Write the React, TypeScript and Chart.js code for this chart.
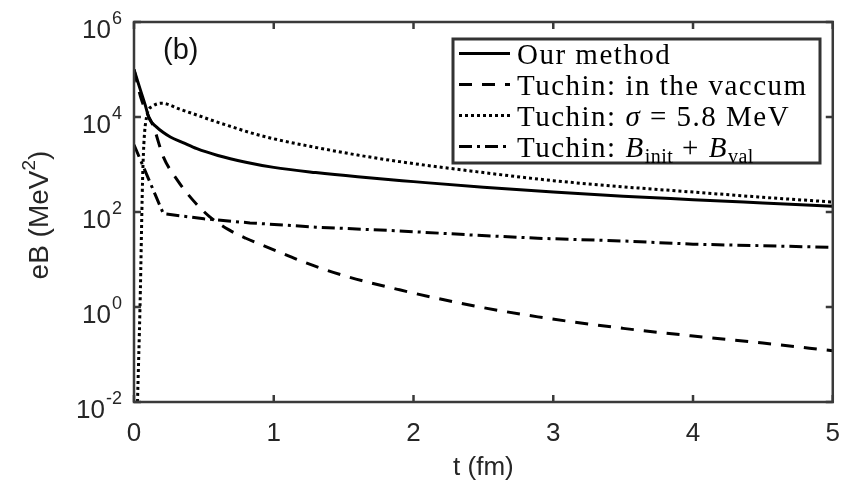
import React, { useEffect, useRef } from 'react';
import { Chart, registerables } from 'chart.js';
Chart.register(...registerables);

// ---- data (t in fm, eB in MeV^2) ----
const ourT = [0, 0.04, 0.08, 0.11, 0.16, 0.21, 0.26, 0.35, 0.45, 0.6, 0.8, 1.0, 1.3, 1.6, 2.0, 2.5, 3.0, 3.5, 4.0, 4.5, 5.0];
const ourB = [100000, 42000, 18000, 9100, 6200, 4700, 3800, 2900, 2150, 1550, 1120, 870, 676, 550, 436, 331, 263, 214, 182, 155, 132];

const vacT = [0, 0.05, 0.1, 0.14, 0.21, 0.31, 0.42, 0.54, 0.68, 0.8, 1.0, 1.23, 1.5, 1.9, 2.4, 2.89, 3.5, 4.0, 4.5, 5.0];
const vacB = [100000, 25000, 11000, 6200, 1450, 470, 180, 80, 42, 28, 16, 8.5, 4.6, 2.3, 1.1, 0.62, 0.355, 0.245, 0.174, 0.12];

const sigT = [0.025, 0.043, 0.064, 0.09, 0.13, 0.2, 0.33, 0.45, 0.59, 0.68, 0.83, 1.0, 1.3, 1.6, 1.9, 2.5, 3.0, 3.5, 4.0, 4.5, 5.0];
const sigB = [0.01, 1, 900, 10000, 16600, 19500, 14500, 11000, 7900, 6500, 4700, 3470, 2290, 1580, 1150, 676, 457, 339, 263, 204, 162];

const valT = [0, 0.21, 0.5, 0.83, 1.3, 1.9, 2.4, 2.89, 3.5, 4.0, 4.5, 5.0];
const valB = [2600, 92, 72, 59, 48, 40, 33, 28, 24.5, 21, 19.5, 18];

const seriesNames = ['Our method', 'Tuchin: in the vaccum', 'Tuchin: σ = 5.8 MeV', 'Tuchin: B_init + B_val'];

const xTicks = [0, 1, 2, 3, 4, 5];
const yExps = [6, 4, 2, 0, -2];

const xTitle = 't (fm)';
const yTitleMain = 'eB (MeV';
const yTitleSup = '2';
const yTitleEnd = ')';
const panelLabel = '(b)';

type Run = { t: string; i?: boolean; sub?: boolean };
const legendRuns: Run[][] = [
  [{ t: 'Our method' }],
  [{ t: 'Tuchin: in the vaccum' }],
  [{ t: 'Tuchin: ' }, { t: 'σ', i: true }, { t: ' = 5.8 MeV' }],
  [{ t: 'Tuchin: ' }, { t: 'B', i: true }, { t: 'init', sub: true }, { t: ' + ' }, { t: 'B', i: true }, { t: 'val', sub: true }],
];

const SANS = '"Liberation Sans", Arial, Helvetica, sans-serif';
const SERIF = '"Liberation Serif", "Times New Roman", serif';
const AXIS_COLOR = '#3a3a3a';
const TEXT_COLOR = '#262626';

const dashes: number[][] = [[], [13, 10], [3, 3], [13, 5, 3, 5]];

const framePlugin = {
  id: 'frame',
  afterDatasetsDraw(chart: any) {
    const { ctx, chartArea: a, scales } = chart;
    const xs = scales.x;
    const ys = scales.y;
    ctx.save();
    // box + inward ticks
    ctx.strokeStyle = AXIS_COLOR;
    ctx.lineWidth = 2.5;
    ctx.setLineDash([]);
    ctx.beginPath();
    const tl = 7;
    for (const t of xTicks) {
      const px = xs.getPixelForValue(t);
      ctx.moveTo(px, a.bottom);
      ctx.lineTo(px, a.bottom - tl);
      ctx.moveTo(px, a.top);
      ctx.lineTo(px, a.top + tl);
    }
    for (const e of yExps) {
      const py = ys.getPixelForValue(Math.pow(10, e));
      ctx.moveTo(a.left, py);
      ctx.lineTo(a.left + tl, py);
      ctx.moveTo(a.right, py);
      ctx.lineTo(a.right - tl, py);
    }
    ctx.stroke();
    ctx.strokeRect(a.left, a.top, a.right - a.left, a.bottom - a.top);

    // y tick labels 10^e
    ctx.fillStyle = TEXT_COLOR;
    ctx.textBaseline = 'alphabetic';
    ctx.textAlign = 'left';
    const rightEdge = a.left - 12;
    for (const e of yExps) {
      const py = ys.getPixelForValue(Math.pow(10, e));
      const expText = String(e);
      ctx.font = `18px ${SANS}`;
      const ew = ctx.measureText(expText).width;
      ctx.font = `26px ${SANS}`;
      const bw = ctx.measureText('10').width;
      const ex = rightEdge - ew;
      const bx = ex - bw - 1;
      ctx.fillText('10', bx, py + 16);
      ctx.font = `18px ${SANS}`;
      ctx.fillText(expText, ex, py + 2);
    }

    // y title with superscript
    ctx.save();
    ctx.translate(40, (a.top + a.bottom) / 2 + 3);
    ctx.rotate(-Math.PI / 2);
    ctx.fillStyle = TEXT_COLOR;
    ctx.textBaseline = 'middle';
    ctx.font = `28px ${SANS}`;
    const w1 = ctx.measureText(yTitleMain).width;
    const w3 = ctx.measureText(yTitleEnd).width;
    ctx.font = `19px ${SANS}`;
    const w2 = ctx.measureText(yTitleSup).width;
    let tx0 = -(w1 + w2 + w3) / 2;
    ctx.font = `28px ${SANS}`;
    ctx.fillText(yTitleMain, tx0, 0);
    tx0 += w1;
    ctx.font = `19px ${SANS}`;
    ctx.fillText(yTitleSup, tx0, -10);
    tx0 += w2;
    ctx.font = `28px ${SANS}`;
    ctx.fillText(yTitleEnd, tx0, 0);
    ctx.restore();

    // panel label
    ctx.fillStyle = '#111';
    ctx.font = `29px ${SANS}`;
    ctx.textBaseline = 'middle';
    ctx.fillText(panelLabel, a.left + 29, a.top + 29);

    // legend
    const bx0 = 453, by0 = 39, bw0 = 367, bh0 = 124;
    ctx.fillStyle = '#fff';
    ctx.fillRect(bx0, by0, bw0, bh0);
    ctx.strokeStyle = '#333';
    ctx.lineWidth = 3;
    ctx.strokeRect(bx0, by0, bw0, bh0);
    const rowH = bh0 / 4;
    chart.data.datasets.forEach((ds: any, k: number) => {
      const cy = by0 + rowH * (k + 0.5) - 1;
      ctx.strokeStyle = '#000';
      ctx.lineWidth = 3;
      ctx.lineCap = 'butt';
      ctx.setLineDash(ds.borderDash || []);
      ctx.beginPath();
      ctx.moveTo(bx0 + 6, cy);
      ctx.lineTo(bx0 + 57, cy);
      ctx.stroke();
      ctx.setLineDash([]);
      let tx = bx0 + 64;
      const base = cy + 10;
      ctx.fillStyle = '#000';
      ctx.textBaseline = 'alphabetic';
      for (const r of legendRuns[k]) {
        const size = r.sub ? 20 : 29;
        ctx.font = `${r.i ? 'italic ' : ''}${size}px ${SERIF}`;
        (ctx as any).letterSpacing = r.sub ? '0.5px' : '1.5px';
        ctx.fillText(r.t, tx, r.sub ? base + 6 : base);
        tx += ctx.measureText(r.t).width;
      }
      (ctx as any).letterSpacing = '0px';
    });
    ctx.restore();
  },
};

export default function App() {
  const ref = useRef<HTMLCanvasElement | null>(null);
  useEffect(() => {
    if (!ref.current) return;
    const mk = (ts: number[], bs: number[]) => ts.map((t, i) => ({ x: t, y: bs[i] }));
    const chart = new Chart(ref.current, {
      type: 'line',
      data: {
        datasets: [
          { label: seriesNames[0], data: mk(ourT, ourB), borderDash: dashes[0], cubicInterpolationMode: 'monotone' },
          { label: seriesNames[1], data: mk(vacT, vacB), borderDash: dashes[1], cubicInterpolationMode: 'monotone' },
          { label: seriesNames[2], data: mk(sigT, sigB), borderDash: dashes[2], cubicInterpolationMode: 'monotone' },
          { label: seriesNames[3], data: mk(valT, valB), borderDash: dashes[3], tension: 0 },
        ].map((d: any) => ({
          ...d,
          borderColor: '#000',
          backgroundColor: '#000',
          borderWidth: 3,
          borderCapStyle: 'butt',
          pointRadius: 0,
          fill: false,
        })),
      },
      options: {
        animation: false,
        responsive: true,
        maintainAspectRatio: false,
        layout: { padding: { top: 22, right: 12, left: 0, bottom: 0 } },
        plugins: { legend: { display: false }, tooltip: { enabled: false } },
        scales: {
          x: {
            type: 'linear',
            min: 0,
            max: 5,
            grid: { display: false },
            border: { display: false },
            afterBuildTicks: (s: any) => {
              s.ticks = xTicks.map((v) => ({ value: v }));
            },
            afterFit: (s: any) => {
              s.height = 87;
            },
            ticks: {
              autoSkip: false,
              maxRotation: 0,
              padding: 8,
              color: TEXT_COLOR,
              font: { family: SANS, size: 26 },
              callback: (v: any) => String(v),
            },
            title: {
              display: true,
              text: xTitle,
              color: TEXT_COLOR,
              font: { family: SANS, size: 26 },
              padding: { top: 0, bottom: 6 },
            },
          },
          y: {
            type: 'logarithmic',
            min: 0.01,
            max: 1e6,
            grid: { display: false },
            border: { display: false },
            ticks: { display: false },
            afterFit: (s: any) => {
              s.width = 134;
            },
            title: { display: false },
          },
        },
      },
      plugins: [framePlugin],
    } as any);
    return () => chart.destroy();
  }, []);
  return (
    <div style={{ position: 'fixed', left: 0, top: 0, width: 848, height: 489, background: '#fff' }}>
      <canvas ref={ref} />
    </div>
  );
}
